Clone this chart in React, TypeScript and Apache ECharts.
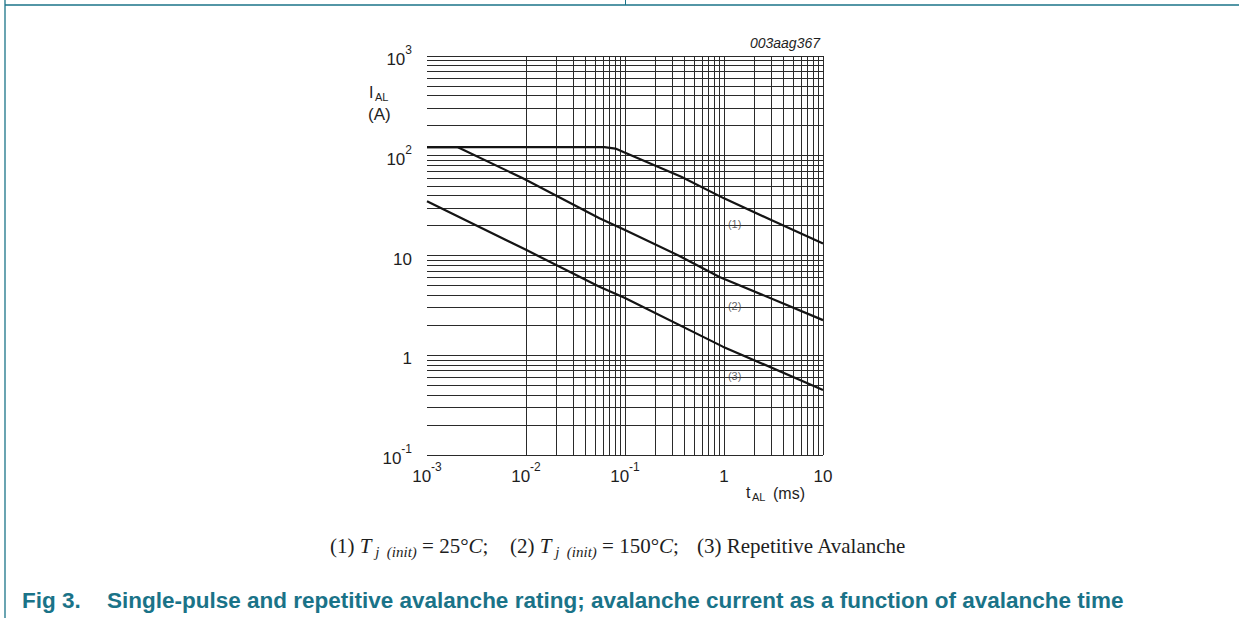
import React, { useEffect, useRef } from "react";
import * as echarts from "echarts";

// t_AL (ms), I_AL (A)
const curve1: number[][] = [[0.001, 122], [0.062, 122], [0.08, 118], [0.099, 108], [0.37, 61.7], [1, 37.4], [3, 22.7], [10, 13.2]];
const curve2: number[][] = [[0.001, 122], [0.00205, 122], [0.0093, 59.4], [0.0552, 23.6], [0.1, 18], [0.355, 9.9], [0.9, 6.1], [10, 2.25]];
const curve3: number[][] = [[0.001, 35], [0.01, 11.4], [0.0552, 4.87], [0.1, 3.75], [0.973, 1.22], [10, 0.449]];

const curveLabels = ["(1)", "(2)", "(3)"];
const curveLabelPos: number[][] = [[1.28, 20.7], [1.28, 3.1], [1.28, 0.62]];

const xDecades = [-3, -2, -1, 0];
const yDecades = [-1, 0, 1, 2];
const multiples = [1, 2, 3, 4, 5, 6, 7, 8, 9];

const xGridValues: number[] = [];
xDecades.forEach((d) => multiples.forEach((m) => xGridValues.push(m * Math.pow(10, d))));
xGridValues.push(10);
const yGridValues: number[] = [];
yDecades.forEach((d) => multiples.forEach((m) => yGridValues.push(m * Math.pow(10, d))));
yGridValues.push(1000);

const SANS = "Liberation Sans, Arial, sans-serif";
const SERIF = "Liberation Serif, Times New Roman, serif";
const TEAL = "#1a7388";
const INK = "#1e1e1e";

const fmtPow = (v: number) => {
  const e = Math.round(Math.log10(v));
  if (e === 0) return "{b|1}";
  if (e === 1) return "{b|10}";
  return "{b|10}{s|" + e + "}";
};

const labelRich = {
  b: { fontSize: 17, fontFamily: SANS, color: INK, lineHeight: 24, verticalAlign: "bottom" },
  s: { fontSize: 12, fontFamily: SANS, color: INK, lineHeight: 11, verticalAlign: "top" },
};

const capN = { fontSize: 21, fontFamily: SERIF, fill: INK, lineHeight: 24, verticalAlign: "top" };
const capI = { ...capN, fontStyle: "italic" };
const capSub = { fontSize: 15, fontFamily: SERIF, fontStyle: "italic", fill: INK, lineHeight: 16, verticalAlign: "bottom" };
const capRich = { n: capN, i: capI, sub: capSub };

export default function App() {
  const ref = useRef<HTMLDivElement>(null);
  useEffect(() => {
    if (!ref.current) return;
    const chart = echarts.init(ref.current, undefined, { renderer: "svg" });
    const lineStyle = { color: "#141414", width: 2.2 };
    const option: any = {
      animation: false,
      backgroundColor: "#ffffff",
      grid: { left: 427, right: 416, top: 56, bottom: 163, containLabel: false },
      xAxis: {
        type: "log",
        logBase: 10,
        min: 0.001,
        max: 10,
        axisLine: { show: false },
        axisTick: { show: false },
        splitLine: { show: false },
        axisLabel: { margin: 6, formatter: fmtPow, rich: labelRich, showMinLabel: true, showMaxLabel: true },
      },
      yAxis: {
        type: "log",
        logBase: 10,
        min: 0.1,
        max: 1000,
        axisLine: { show: false },
        axisTick: { show: false },
        splitLine: { show: false },
        axisLabel: { margin: 15, formatter: fmtPow, rich: labelRich, showMinLabel: true, showMaxLabel: true },
      },
      series: [
        {
          type: "line",
          name: "grid",
          data: [[1, 1]],
          showSymbol: false,
          symbol: "none",
          lineStyle: { opacity: 0 },
          silent: true,
          z: 1,
          markLine: {
            silent: true,
            symbol: ["none", "none"],
            label: { show: false },
            lineStyle: { color: "#2a2a2a", width: 1, type: "solid" },
            emphasis: { disabled: true },
            data: [
              ...xGridValues.map((v) => ({ xAxis: v })),
              ...yGridValues.map((v) => ({ yAxis: v })),
            ],
          },
        },
        { type: "line", name: "1", data: curve1, showSymbol: false, symbol: "none", lineStyle, z: 5 },
        { type: "line", name: "2", data: curve2, showSymbol: false, symbol: "none", lineStyle, z: 5 },
        { type: "line", name: "3", data: curve3, showSymbol: false, symbol: "none", lineStyle, z: 5 },
        {
          type: "scatter",
          name: "labels",
          data: curveLabelPos,
          symbolSize: 0,
          z: 6,
          label: {
            show: true,
            position: "inside",
            formatter: (p: any) => curveLabels[p.dataIndex],
            fontSize: 11,
            fontFamily: SANS,
            color: "#3c3c3c",
          },
        },
      ],
      graphic: [
        { type: "line", shape: { x1: 5, y1: 5, x2: 1239, y2: 5 }, style: { stroke: TEAL, lineWidth: 1.3 } },
        { type: "line", shape: { x1: 5, y1: 0, x2: 5, y2: 618 }, style: { stroke: TEAL, lineWidth: 1.3 } },
        { type: "line", shape: { x1: 625.5, y1: 0, x2: 625.5, y2: 5 }, style: { stroke: TEAL, lineWidth: 1 } },
        {
          type: "text", x: 820, y: 43,
          style: { text: "003aag367", fontSize: 14, fontStyle: "italic", fontFamily: SANS, fill: INK, align: "right", verticalAlign: "middle" },
        },
        { type: "text", x: 369, y: 92.5, style: { text: "I", fontSize: 16, fontFamily: SANS, fill: INK, verticalAlign: "middle" } },
        { type: "text", x: 375, y: 97, style: { text: "AL", fontSize: 11, fontFamily: SANS, fill: INK, verticalAlign: "middle" } },
        { type: "text", x: 368, y: 114, style: { text: "(A)", fontSize: 17, fontFamily: SANS, fill: INK, verticalAlign: "middle" } },
        { type: "text", x: 746, y: 492, style: { text: "t", fontSize: 16, fontFamily: SANS, fill: INK, verticalAlign: "middle" } },
        { type: "text", x: 752, y: 497, style: { text: "AL", fontSize: 11, fontFamily: SANS, fill: INK, verticalAlign: "middle" } },
        { type: "text", x: 773, y: 493, style: { text: "(ms)", fontSize: 16, fontFamily: SANS, fill: INK, verticalAlign: "middle" } },
        {
          type: "text", x: 330, y: 547,
          style: { text: "{n|(1) }{i|T}{sub| j  (init)}{n| = 25°}{i|C}{n|;}", verticalAlign: "middle", rich: capRich },
        },
        {
          type: "text", x: 510, y: 547,
          style: { text: "{n|(2) }{i|T}{sub| j  (init)}{n| = 150°}{i|C}{n|;}", verticalAlign: "middle", rich: capRich },
        },
        {
          type: "text", x: 697, y: 547,
          style: { text: "{n|(3) Repetitive Avalanche}", verticalAlign: "middle", rich: capRich },
        },
        { type: "text", x: 22, y: 600.5, style: { text: "Fig 3.", fontSize: 22.5, fontWeight: "bold", fontFamily: SANS, fill: TEAL, verticalAlign: "middle" } },
        {
          type: "text", x: 107, y: 600.5,
          style: {
            text: "Single-pulse and repetitive avalanche rating; avalanche current as a function of avalanche time",
            fontSize: 22.5, fontWeight: "bold", fontFamily: SANS, fill: TEAL, verticalAlign: "middle",
          },
        },
      ],
    };
    chart.setOption(option);
    return () => chart.dispose();
  }, []);
  return <div ref={ref} style={{ position: "fixed", left: 0, top: 0, width: 1239, height: 618 }} />;
}
